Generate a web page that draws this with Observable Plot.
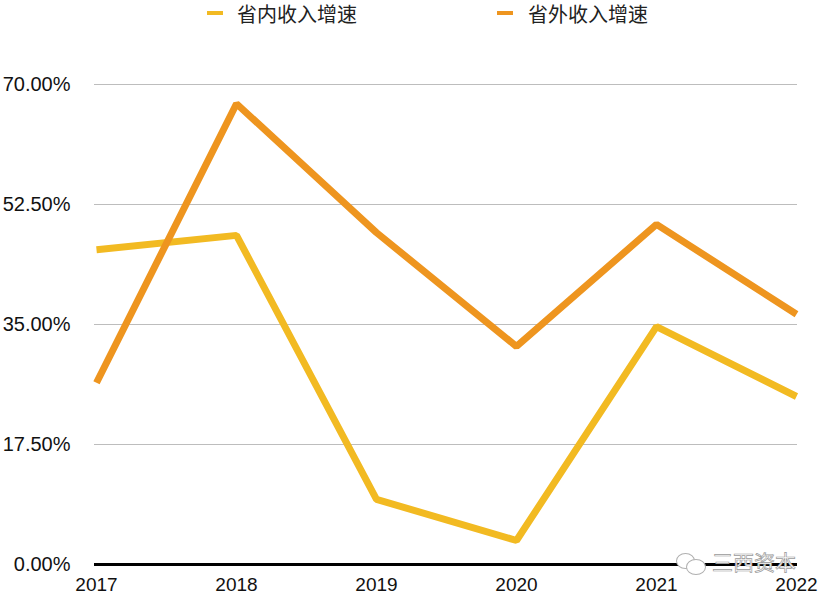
<!DOCTYPE html>
<html><head><meta charset="utf-8">
<script src="https://cdn.jsdelivr.net/npm/d3@7"></script>
<script src="https://cdn.jsdelivr.net/npm/@observablehq/plot@0.6"></script>
<style>
body{margin:0;background:#fff;font-family:"Liberation Sans","Noto Sans CJK SC",sans-serif;}
#wrap{position:relative;width:820px;height:596px;overflow:hidden;}
#legend{position:relative;height:30px;}
.item{position:absolute;top:1px;font-family:"Noto Sans CJK SC",sans-serif;font-size:20px;color:#222;line-height:26px;}
.sw{position:absolute;top:11px;width:16px;height:4px;}
#wm{position:absolute;left:712px;top:548px;font-family:"Noto Sans CJK SC",sans-serif;font-size:21px;line-height:26px;color:#fff;-webkit-text-stroke:0.7px #9a9a9a;letter-spacing:0px;}
.bub{position:absolute;border:1.5px solid #b0b0b0;border-radius:50%;background:#fff;}
</style></head>
<body><div id="wrap"><div id="legend"></div><div id="chart"></div>
<div class="bub" style="left:676px;top:553px;width:17px;height:14px;"></div>
<div class="bub" style="left:686px;top:559px;width:18px;height:14px;"></div>
<div id="wm">三西资本</div></div>
<script>
const years = ["2017","2018","2019","2020","2021","2022"];
const inProvince = [45.9, 48.0, 9.5, 3.5, 34.7, 24.5];
const outProvince = [26.5, 67.2, 48.4, 31.8, 49.6, 36.5];
const seriesNames = ["省内收入增速","省外收入增速"];
const colors = ["#F2BA22","#EE951F"];
const yTicks = [0, 17.5, 35, 52.5, 70];

const data = [];
years.forEach((y,i)=>{
  data.push({year:y, value:inProvince[i], series:seriesNames[0]});
  data.push({year:y, value:outProvince[i], series:seriesNames[1]});
});

const lg = document.getElementById("legend");
[[207,237],[497,528]].forEach(([sx,tx],i)=>{
  const s=document.createElement("div");s.className="sw";s.style.left=sx+"px";s.style.background=colors[i];lg.appendChild(s);
  const t=document.createElement("div");t.className="item";t.style.left=tx+"px";t.textContent=seriesNames[i];lg.appendChild(t);
});

const chart = Plot.plot({
  width: 820, height: 566,
  marginLeft: 94, marginRight: 23, marginTop: 54, marginBottom: 32,
  style:{fontFamily:'"Liberation Sans",Arial,sans-serif', fontSize:"19px", color:"#111", background:"#fff", overflow:"visible"},
  x:{type:"point", domain:years, padding:0, label:null},
  y:{domain:[0,70], label:null},
  color:{domain:seriesNames, range:colors},
  marks:[
    Plot.ruleY(yTicks.filter(d=>d>0), {stroke:"#bdbdbd", strokeWidth:1, strokeOpacity:1}),
    Plot.axisY(yTicks, {tickSize:0, tickPadding:24, tickFormat:d=>d.toFixed(2)+"%", fontSize:20, label:null}),
    Plot.axisX({tickSize:0, tickPadding:13, fontSize:19, label:null}),
    Plot.line(data, {x:"year", y:"value", stroke:"series", strokeWidth:7, strokeLinejoin:"miter", strokeLinecap:"butt", curve:"linear"}),
    Plot.ruleY([0], {stroke:"#000", strokeWidth:3})
  ]
});
document.getElementById("chart").appendChild(chart);
</script></body></html>
